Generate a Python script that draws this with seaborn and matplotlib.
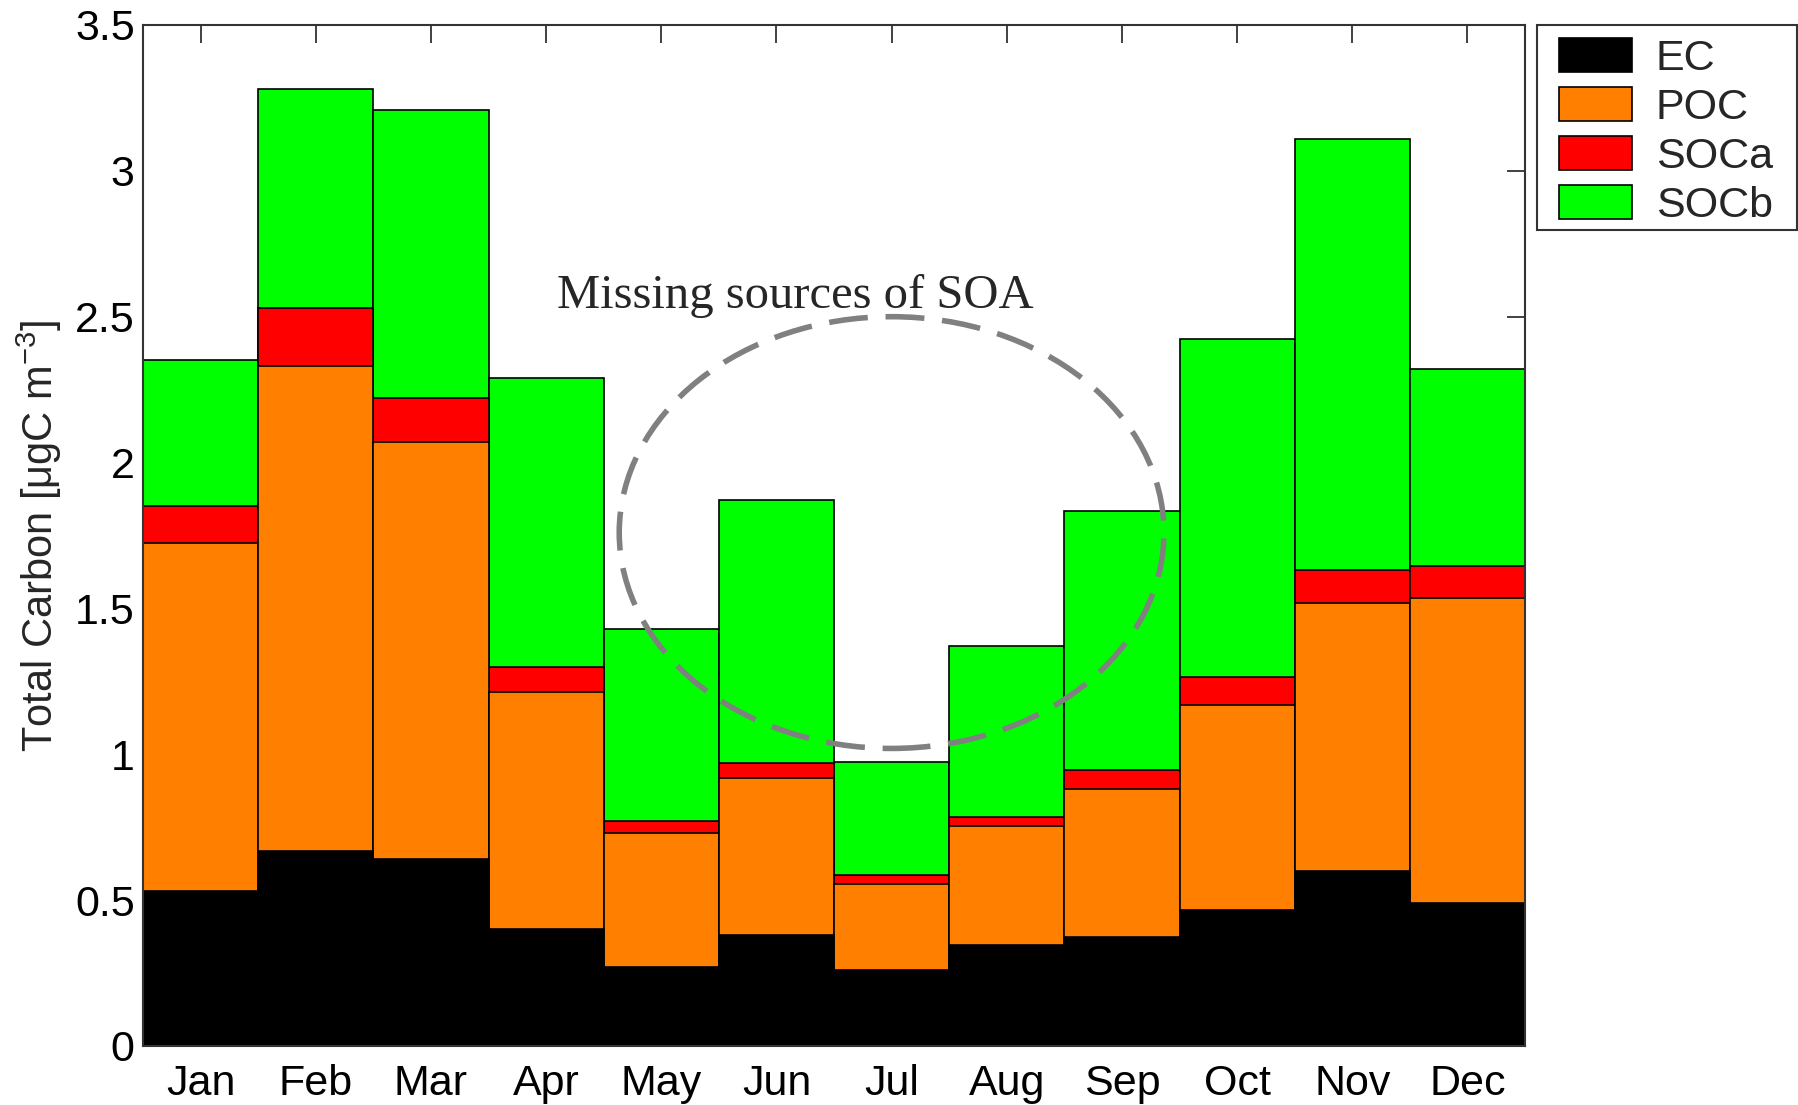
import matplotlib
matplotlib.use("Agg")
import pandas as pd
import matplotlib.pyplot as plt
import seaborn as sns
from matplotlib.patches import Patch, Ellipse, Rectangle

# monthly carbon components [ugC m-3], layer thickness
months = ["Jan", "Feb", "Mar", "Apr", "May", "Jun",
          "Jul", "Aug", "Sep", "Oct", "Nov", "Dec"]
ec = [0.53, 0.67, 0.64, 0.40, 0.27, 0.38, 0.26, 0.345, 0.375, 0.465, 0.60, 0.49]
poc = [1.195, 1.66, 1.43, 0.815, 0.46, 0.54, 0.295, 0.41, 0.505, 0.705, 0.92, 1.045]
soca = [0.125, 0.20, 0.15, 0.085, 0.04, 0.05, 0.03, 0.03, 0.065, 0.095, 0.11, 0.11]
socb = [0.50, 0.75, 0.99, 0.99, 0.66, 0.90, 0.39, 0.585, 0.89, 1.16, 1.48, 0.675]

komponentler = ["EC", "POC", "SOCa", "SOCb"]
renkler = ["#000000", "#ff8000", "#ff0000", "#00ff00"]
ytick_degerleri = [0, 0.5, 1, 1.5, 2, 2.5, 3, 3.5]
ytick_etiketleri = ["0", "0.5", "1", "1.5", "2", "2.5", "3", "3.5"]

sns.set_style("white")
plt.rcParams["font.family"] = ["Liberation Sans", "DejaVu Sans"]
plt.rcParams["mathtext.fontset"] = "custom"
plt.rcParams["mathtext.rm"] = "Liberation Sans"
plt.rcParams["mathtext.it"] = "Liberation Sans:italic"


def veriyi_hazirla():
    df = pd.DataFrame({"Ay": months, "EC": ec, "POC": poc, "SOCa": soca, "SOCb": socb})
    # cumulative tops for stacking
    kum = df[komponentler].cumsum(axis=1)
    kum["Ay"] = df["Ay"]
    return kum


def ciz(kum):
    fig = plt.figure(figsize=(17.99, 11.05), dpi=100)
    ax = fig.add_axes([0.0795, 0.0534, 0.7682, 0.924])

    # draw from the top layer down so lower layers cover the upper ones
    for komp, renk in reversed(list(zip(komponentler, renkler))):
        sns.barplot(data=kum, x="Ay", y=komp, color=renk, saturation=1,
                    width=1, errorbar=None, edgecolor="black", linewidth=1.2, ax=ax)

    ax.set_ylim(0, 3.5)
    ax.set_xlim(-0.5, 11.5)
    ax.set_yticks(ytick_degerleri)
    ax.set_yticklabels(ytick_etiketleri)
    ax.set_xlabel("")
    ax.set_ylabel("Total Carbon [μgC m$^{-3}$]", fontsize=30, labelpad=8)

    ax.tick_params(direction="in", length=13, width=1.3, top=True, right=True,
                   labelsize=31, colors="#333333", labelcolor="black")
    ax.tick_params(axis="x", pad=13)
    ax.tick_params(axis="y", pad=6)
    for sp in ax.spines.values():
        sp.set_color("#333333")
        sp.set_linewidth(1.5)

    elips = Ellipse((6, 1.76), 4.73, 1.48, fill=False, edgecolor="#808080",
                    linewidth=4, linestyle=(0, (7, 3.2)), zorder=5)
    ax.add_patch(elips)
    ax.text(5.16, 2.53, "Missing sources of SOA", ha="center", va="baseline",
            fontsize=35, family=["Liberation Serif", "DejaVu Serif"])

    tutamaclar = [Patch(facecolor=r, edgecolor="black", linewidth=1.2, label=k)
                  for k, r in zip(komponentler, renkler)]
    fig.legend(handles=tutamaclar, loc="upper left",
               bbox_to_anchor=(0.8594, 0.9774), bbox_transform=fig.transFigure,
               borderaxespad=0, fontsize=31, handlelength=1.7, handleheight=0.84,
               labelspacing=0.19, handletextpad=0.55, borderpad=0.3, frameon=False)
    # legend frame drawn separately (wider than matplotlib's own box)
    cerceve = Rectangle((0.8544, 0.7919), 0.1445, 0.1855, transform=fig.transFigure,
                        fill=False, edgecolor="#333333", linewidth=1.5)
    fig.patches.append(cerceve)

    fig.savefig("out.png", dpi=100)
    plt.close(fig)


if __name__ == "__main__":
    ciz(veriyi_hazirla())
